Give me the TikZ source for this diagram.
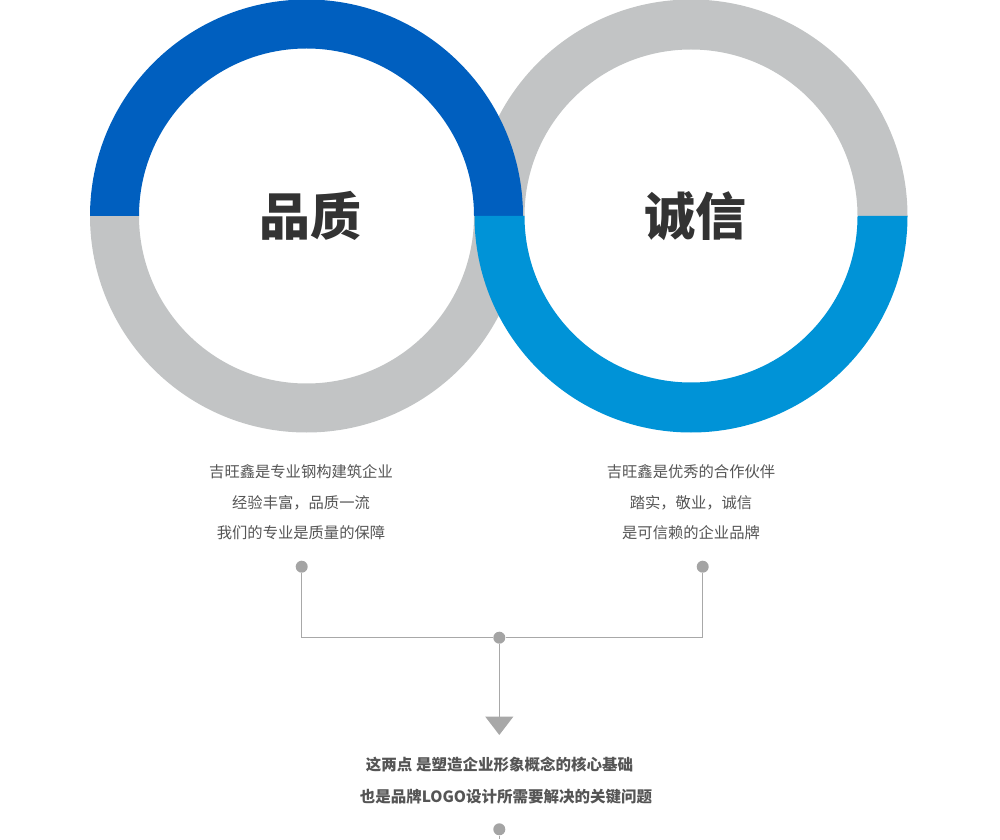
\documentclass[tikz,border=0pt]{standalone}
\usepackage{fontspec}
\newfontfamily\cjk{Noto Sans CJK SC}
\usetikzlibrary{arrows.meta}
\definecolor{blueA}{HTML}{005FBF}
\definecolor{blueB}{HTML}{0093D7}
\definecolor{ringgray}{HTML}{C2C4C5}
\definecolor{linegray}{HTML}{A8A8A8}
\definecolor{dotgray}{HTML}{A4A4A4}
\definecolor{titlecol}{HTML}{333333}
\definecolor{bodycol}{HTML}{555555}
\definecolor{notecol}{HTML}{555555}
\tikzset{
  x=1pt, y=1pt,
  title/.style={font=\cjk\bfseries\fontsize{51}{51}\selectfont, text=titlecol, inner sep=0pt},
  body/.style={font=\cjk\fontsize{15.3}{30.5}\selectfont, text=bodycol, align=center, inner sep=0pt},
  note/.style={font=\cjk\bfseries\fontsize{15.5}{15.5}\selectfont, text=notecol, inner sep=0pt},
  dot/.style={circle, fill=dotgray, minimum size=12pt, inner sep=0pt},
  conn/.style={draw=linegray, line width=1.5pt},
}
\begin{document}
\begin{tikzpicture}
\useasboundingbox (0,0) rectangle (1000,839);
% ring centres
\coordinate (L) at (306.5,623);
\coordinate (R) at (691,623);
% gray halves
\fill[ringgray] ([shift={(216.5,0)}]R) arc[start angle=0,end angle=180,radius=216.5]
  -- ([shift={(-166.5,0)}]R) arc[start angle=180,end angle=0,radius=166.5] -- cycle;
\fill[ringgray] ([shift={(216.5,0)}]L) arc[start angle=0,end angle=-180,radius=216.5]
  -- ([shift={(-167.5,0)}]L) arc[start angle=-180,end angle=0,radius=167.5] -- cycle;
% blue halves
\fill[blueA] ([shift={(216.5,0)}]L) arc[start angle=0,end angle=180,radius=216.5]
  -- ([shift={(-167.5,0)}]L) arc[start angle=180,end angle=0,radius=167.5] -- cycle;
\fill[blueB] ([shift={(216.5,0)}]R) arc[start angle=0,end angle=-180,radius=216.5]
  -- ([shift={(-166.5,0)}]R) arc[start angle=-180,end angle=0,radius=166.5] -- cycle;
% titles
\node[title] (t1) at (310,623) {品质};
\node[title] (t2) at (695.3,623) {诚信};
% body texts
\node[body] (b1) at (301,336.5) {吉旺鑫是专业钢构建筑企业\\经验丰富，品质一流\\我们的专业是质量的保障};
\node[body] (b2) at (691,336.5) {吉旺鑫是优秀的合作伙伴\\踏实，敬业，诚信\\是可信赖的企业品牌};
% connectors
\node[dot] (ld) at (301.7,272.3) {};
\node[dot] (rd) at (702.7,272.3) {};
\node[dot] (md) at (499.3,201.3) {};
\coordinate (tip) at (499.3,104);
\draw[conn] (ld) |- (md);
\draw[conn] (md) -| (rd);
\draw[conn, -{Triangle[width=28pt,length=18.5pt]}, linegray] (md) -- (tip);
% notes
\node[note] (n1) at (499.5,74) {这两点 是塑造企业形象概念的核心基础};
\node[note] (n2) at (506,42) {也是品牌LOGO设计所需要解决的关键问题};
\node[dot] (bd) at (499.3,9.7) {};
\coordinate (bend) at (499.3,0);
\draw[conn] (bd) -- (bend);
\end{tikzpicture}
\end{document}
